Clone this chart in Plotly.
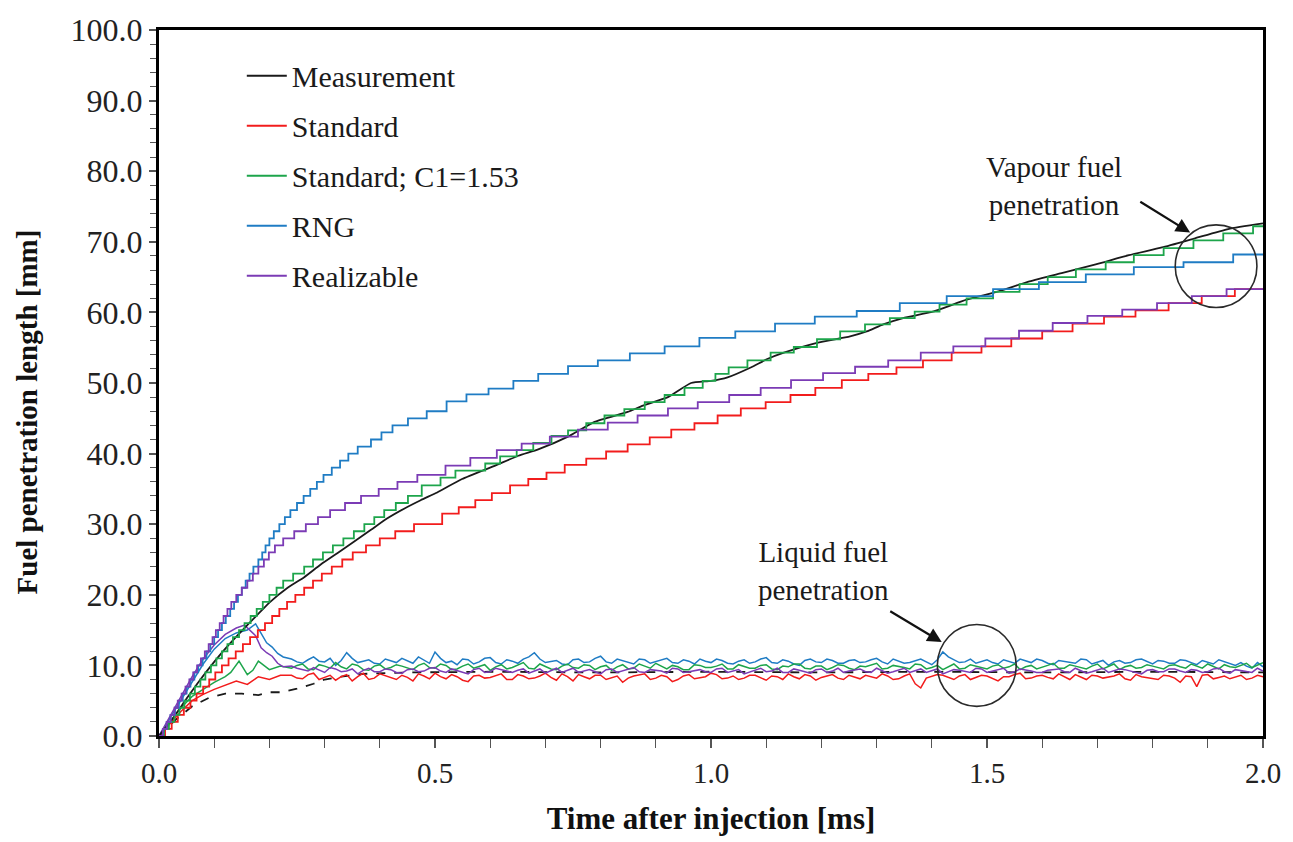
import plotly.graph_objects as go

# ---------------- data ----------------
# Vapour penetration, stepped series: time of each step [ms] and new level [mm]
rng_t = [0, 0.007, 0.014, 0.021, 0.029, 0.036, 0.043, 0.050, 0.057, 0.064, 0.071, 0.079, 0.086, 0.093,
         0.100, 0.107, 0.114, 0.121, 0.129, 0.136, 0.143, 0.150, 0.157, 0.164, 0.171, 0.180, 0.187, 0.193,
         0.200, 0.208, 0.218, 0.228, 0.238, 0.250, 0.262, 0.274, 0.286, 0.298, 0.313, 0.328, 0.343, 0.360,
         0.384, 0.403, 0.423, 0.451, 0.485, 0.521, 0.557, 0.597, 0.642, 0.687, 0.741, 0.795, 0.853, 0.916,
         0.979, 1.044, 1.116, 1.188, 1.264, 1.342, 1.427, 1.511, 1.594, 1.679, 1.766, 1.856, 1.946, 2.0]
rng_y = [0, 1, 2, 3, 4, 5, 6, 7, 8, 9, 10, 11, 12, 13,
         14, 15, 16, 17, 18, 19, 20, 21, 22, 23, 24, 25, 26, 27,
         28, 29, 30, 31, 32, 33, 34, 35, 36, 37, 38, 39, 40, 41,
         42, 43, 44, 45, 46, 47.4, 48.4, 49.2, 50.3, 51.3, 52.4, 53.2, 54.2, 55.2,
         56.4, 57.3, 58.4, 59.4, 60.2, 61.3, 62.3, 63.3, 64.3, 65.4, 66.4, 67.1, 68.2, 68.2]

real_t = [0, 0.007, 0.014, 0.021, 0.028, 0.034, 0.041, 0.048, 0.055, 0.062, 0.069, 0.076, 0.083, 0.090,
          0.097, 0.103, 0.110, 0.117, 0.124, 0.131, 0.140, 0.150, 0.160, 0.170, 0.180, 0.190, 0.199, 0.210,
          0.225, 0.245, 0.266, 0.288, 0.310, 0.337, 0.366, 0.398, 0.432, 0.468, 0.519, 0.564, 0.612, 0.657,
          0.708, 0.759, 0.813, 0.867, 0.922, 0.976, 1.033, 1.090, 1.145, 1.203, 1.261, 1.321, 1.380, 1.439,
          1.497, 1.558, 1.619, 1.682, 1.745, 1.808, 1.871, 1.934, 2.0]
real_y = [0, 1, 2, 3, 4, 5, 6, 7, 8, 9, 10, 11, 12, 13,
          14, 15, 16, 17, 18, 19, 20, 21, 22, 23, 24, 25, 26, 27,
          28, 29, 30, 31, 32, 33, 34, 35, 36, 37, 38.3, 39.4, 40.5, 41.4,
          42.4, 43.4, 44.4, 45.4, 46.4, 47.3, 48.3, 49.3, 50.4, 51.4, 52.3, 53.2, 54.3, 55.2,
          56.3, 57.4, 58.5, 59.5, 60.4, 61.3, 62.3, 63.3, 63.3]

std_t = [0, 0.011, 0.023, 0.034, 0.045, 0.057, 0.068, 0.080, 0.091, 0.102, 0.114, 0.126, 0.139, 0.152,
         0.165, 0.179, 0.192, 0.205, 0.218, 0.232, 0.247, 0.263, 0.279, 0.295, 0.313, 0.332, 0.351, 0.375,
         0.400, 0.428, 0.462, 0.513, 0.543, 0.573, 0.603, 0.636, 0.669, 0.702, 0.735, 0.774, 0.810, 0.849,
         0.889, 0.928, 0.970, 1.012, 1.054, 1.099, 1.144, 1.189, 1.237, 1.285, 1.336, 1.384, 1.436, 1.490,
         1.544, 1.600, 1.655, 1.712, 1.769, 1.829, 1.889, 1.949, 2.0]
std_y = [0, 1, 2, 3, 4, 5, 6, 7, 8, 9, 10, 11, 12, 13,
         14, 15, 16, 17, 18, 19, 20, 21, 22, 23, 24, 25, 26, 27,
         28, 29, 30, 31.5, 32.4, 33.4, 34.4, 35.5, 36.4, 37.3, 38.4, 39.3, 40.3, 41.3,
         42.3, 43.4, 44.3, 45.4, 46.4, 47.3, 48.3, 49.3, 50.4, 51.3, 52.2, 53.2, 54.3, 55.2,
         56.3, 57.3, 58.4, 59.4, 60.3, 61.3, 62.3, 63.3, 63.3]

c153_t = [0, 0.009, 0.018, 0.028, 0.037, 0.046, 0.056, 0.065, 0.075, 0.084, 0.094, 0.104, 0.114, 0.124,
          0.134, 0.145, 0.155, 0.166, 0.177, 0.188, 0.200, 0.213, 0.225, 0.243, 0.263, 0.279, 0.297, 0.315,
          0.334, 0.353, 0.372, 0.390, 0.408, 0.429, 0.451, 0.476, 0.510, 0.537, 0.591, 0.618, 0.648, 0.678,
          0.711, 0.741, 0.774, 0.807, 0.843, 0.880, 0.916, 0.952, 0.985, 1.008, 1.032, 1.066, 1.108, 1.150,
          1.192, 1.234, 1.279, 1.324, 1.369, 1.414, 1.463, 1.511, 1.559, 1.610, 1.661, 1.715, 1.766, 1.820,
          1.874, 1.928, 1.982, 2.0]
c153_y = [0, 1, 2, 3, 4, 5, 6, 7, 8, 9, 10, 11, 12, 13,
          14, 15, 16, 17, 18, 19, 20, 21, 22, 23, 24, 25, 26, 27,
          28, 29, 30, 31, 32, 33, 34, 35.5, 36.6, 37.6, 38.6, 39.6, 40.5, 41.5,
          42.5, 43.3, 44.3, 45.4, 46.3, 47.3, 48.3, 49.3, 50.3, 51.3, 52.2, 53.2, 54.3, 55.1,
          56.2, 57.3, 58.3, 59.2, 60.1, 61.1, 62.0, 62.9, 64.0, 65.0, 66.1, 67.1, 68.1, 69.1,
          70.2, 71.2, 72.2, 72.2]

meas_t = [0, 0.025, 0.05, 0.075, 0.1, 0.125, 0.15, 0.175, 0.2, 0.233, 0.263, 0.293, 0.323, 0.353, 0.384,
          0.413, 0.444, 0.474, 0.504, 0.549, 0.609, 0.651, 0.687, 0.741, 0.789, 0.849, 0.880, 0.922, 0.964,
          1.0, 1.030, 1.072, 1.102, 1.132, 1.192, 1.252, 1.282, 1.312, 1.348, 1.402, 1.463, 1.517, 1.577,
          1.637, 1.697, 1.757, 1.817, 1.877, 1.937, 2.0]
meas_y = [0, 2.5, 5.3, 8.0, 10.5, 12.8, 14.9, 16.9, 18.9, 21.0, 22.5, 24.3, 25.9, 27.5, 29.2,
          30.8, 32.2, 33.4, 34.5, 36.4, 38.3, 39.7, 40.6, 42.4, 44.5, 45.9, 46.9, 48.0, 50.0,
          50.3, 50.8, 52.2, 53.4, 54.3, 55.7, 56.6, 57.3, 58.3, 59.2, 60.1, 61.8, 62.9, 64.4,
          65.6, 66.8, 68.1, 69.2, 70.5, 71.8, 72.6]

# Liquid penetration (measurement, dashed)
meas_liq_t = [0, 0.03, 0.06, 0.09, 0.12, 0.15, 0.18, 0.20, 0.22, 0.25, 0.28, 0.30, 0.33, 0.37, 0.45,
              0.6, 0.8, 1.0, 1.2, 1.4, 1.6, 1.8, 2.0]
meas_liq_y = [0, 2.3, 4.2, 5.4, 6.0, 6.0, 5.8, 6.2, 6.2, 6.7, 7.4, 8.0, 8.4, 8.8, 9.0,
              9.1, 9.0, 9.1, 9.0, 9.1, 9.0, 9.1, 9.0]

# Liquid penetration, simulations: initial rise
std_liq_t0 = [0, 0.02, 0.04, 0.06, 0.08, 0.10, 0.12, 0.14, 0.16, 0.18, 0.20, 0.22]
std_liq_y0 = [0, 1.8, 3.5, 5.0, 5.9, 6.6, 7.2, 7.8, 7.3, 8.4, 8.0, 8.6]
c153_liq_t0 = [0, 0.02, 0.04, 0.06, 0.08, 0.10, 0.12, 0.13, 0.145, 0.16, 0.17, 0.18, 0.20, 0.22]
c153_liq_y0 = [0, 2.0, 4.0, 5.6, 6.6, 7.6, 8.4, 9.0, 10.6, 8.7, 9.3, 10.6, 9.4, 9.9]
rng_liq_t0 = [0, 0.02, 0.04, 0.06, 0.08, 0.10, 0.12, 0.14, 0.16, 0.175, 0.185, 0.195, 0.205, 0.215, 0.225]
rng_liq_y0 = [0, 2.6, 5.2, 7.8, 10.2, 12.3, 13.8, 14.6, 15.0, 15.9, 14.6, 13.2, 12.6, 11.7, 11.2]
real_liq_t0 = [0, 0.02, 0.04, 0.06, 0.08, 0.10, 0.12, 0.14, 0.155, 0.165, 0.175, 0.185, 0.195, 0.205, 0.215, 0.225]
real_liq_y0 = [0, 2.8, 5.6, 8.4, 10.9, 12.9, 14.4, 15.3, 15.7, 15.0, 14.2, 12.5, 11.8, 11.3, 10.3, 9.8]

# Fluctuating part, sampled at even (liq_t) and odd (liq_t_mid) hundredths of a ms
liq_t = [0.24, 0.26, 0.28, 0.30, 0.32, 0.34, 0.36, 0.38, 0.40, 0.42,
         0.44, 0.46, 0.48, 0.50, 0.52, 0.54, 0.56, 0.58, 0.60, 0.62,
         0.64, 0.66, 0.68, 0.70, 0.72, 0.74, 0.76, 0.78, 0.80, 0.82,
         0.84, 0.86, 0.88, 0.90, 0.92, 0.94, 0.96, 0.98, 1.00, 1.02,
         1.04, 1.06, 1.08, 1.10, 1.12, 1.14, 1.16, 1.18, 1.20, 1.22,
         1.24, 1.26, 1.28, 1.30, 1.32, 1.34, 1.36, 1.38, 1.40, 1.42,
         1.44, 1.46, 1.48, 1.50, 1.52, 1.54, 1.56, 1.58, 1.60, 1.62,
         1.64, 1.66, 1.68, 1.70, 1.72, 1.74, 1.76, 1.78, 1.80, 1.82,
         1.84, 1.86, 1.88, 1.90, 1.92, 1.94, 1.96, 1.98, 2.00]
liq_t_mid = [0.25, 0.27, 0.29, 0.31, 0.33, 0.35, 0.37, 0.39, 0.41, 0.43,
             0.45, 0.47, 0.49, 0.51, 0.53, 0.55, 0.57, 0.59, 0.61, 0.63,
             0.65, 0.67, 0.69, 0.71, 0.73, 0.75, 0.77, 0.79, 0.81, 0.83,
             0.85, 0.87, 0.89, 0.91, 0.93, 0.95, 0.97, 0.99, 1.01, 1.03,
             1.05, 1.07, 1.09, 1.11, 1.13, 1.15, 1.17, 1.19, 1.21, 1.23,
             1.25, 1.27, 1.29, 1.31, 1.33, 1.35, 1.37, 1.39, 1.41, 1.43,
             1.45, 1.47, 1.49, 1.51, 1.53, 1.55, 1.57, 1.59, 1.61, 1.63,
             1.65, 1.67, 1.69, 1.71, 1.73, 1.75, 1.77, 1.79, 1.81, 1.83,
             1.85, 1.87, 1.89, 1.91, 1.93, 1.95, 1.97, 1.99]

std_liq_y = [8.6, 8.1, 8.9, 8.3, 7.9, 8.7, 8.4, 8.0, 8.8, 8.2,
             8.6, 7.8, 8.5, 8.9, 8.1, 8.4, 7.7, 8.6, 8.3, 8.8,
             8.0, 8.5, 8.2, 8.9, 7.9, 8.4, 8.7, 8.1, 8.6, 8.3,
             7.6, 8.5, 8.8, 8.2, 8.4, 8.0, 8.7, 8.3, 8.9, 8.1,
             8.5, 8.2, 8.6, 7.9, 8.4, 8.8, 8.1, 8.5, 8.3, 8.7,
             8.0, 8.4, 8.6, 8.2, 8.5, 8.1, 8.8, 6.8, 8.4, 8.6,
             8.0, 8.7, 8.3, 8.5, 7.8, 8.4, 8.9, 8.2, 8.6, 8.1,
             8.4, 8.7, 8.0, 8.5, 8.3, 8.8, 7.9, 8.4, 8.2, 8.6,
             8.2, 8.5, 7.0, 8.7, 8.3, 8.1, 8.6, 8.2, 8.4]
std_liq_y_mid = [8.2, 8.7, 8.0, 8.6, 8.4, 7.8, 8.9, 8.2, 8.5, 8.0,
                 8.3, 8.8, 8.1, 8.4, 8.7, 7.9, 8.5, 8.2, 8.6, 8.0,
                 8.7, 8.1, 8.5, 8.3, 8.8, 7.8, 8.4, 8.6, 8.0, 8.5,
                 8.2, 8.7, 8.0, 8.6, 7.7, 8.5, 8.1, 8.4, 8.7, 8.2,
                 8.0, 8.6, 8.3, 8.5, 8.0, 8.4, 8.7, 7.9, 8.5, 8.2,
                 8.6, 8.1, 8.4, 8.8, 8.0, 8.5, 7.4, 8.2, 8.7, 8.3,
                 8.5, 8.0, 8.6, 8.2, 8.4, 8.7, 8.1, 8.5, 8.3, 8.8,
                 8.0, 8.4, 8.6, 8.2, 8.5, 8.1, 8.7, 8.3, 8.0, 8.5,
                 7.6, 8.4, 8.6, 8.1, 8.5, 8.3, 8.0, 8.6]
c153_liq_y = [9.6, 10.2, 9.4, 9.9, 10.4, 9.5, 10.0, 9.3, 10.1, 9.7,
              9.9, 9.4, 10.3, 9.6, 10.0, 9.5, 10.2, 9.8, 9.3, 10.1,
              9.7, 10.4, 9.5, 9.9, 9.4, 10.2, 9.6, 10.0, 9.8, 9.3,
              10.1, 9.6, 9.9, 10.3, 9.5, 9.8, 9.4, 10.0, 9.7, 10.2,
              9.5, 9.9, 9.6, 10.1, 9.4, 9.8, 10.2, 9.5, 9.9, 9.7,
              10.0, 9.4, 9.8, 10.3, 9.6, 9.9, 9.5, 10.1, 9.7, 9.4,
              10.2, 9.6, 9.9, 9.5, 10.1, 9.8, 9.4, 10.0, 9.7, 10.3,
              9.6, 9.9, 9.5, 10.2, 9.8, 9.4, 10.0, 9.7, 9.9, 9.5,
              10.1, 9.6, 9.9, 10.2, 9.5, 9.8, 10.0, 9.7, 10.4]
c153_liq_y_mid = [10.0, 9.5, 10.1, 9.6, 9.8, 10.2, 9.4, 9.9, 9.5, 10.1,
                  9.6, 10.0, 9.7, 10.2, 9.4, 9.9, 9.6, 10.1, 9.8, 9.5,
                  10.0, 9.6, 10.2, 9.5, 9.9, 9.7, 10.1, 9.4, 10.0, 9.8,
                  9.5, 10.2, 9.6, 9.9, 10.0, 9.4, 10.1, 9.7, 9.9, 9.5,
                  10.1, 9.6, 10.0, 9.5, 9.9, 10.2, 9.6, 9.9, 9.4, 10.1,
                  9.6, 9.9, 10.1, 9.5, 10.0, 9.7, 10.2, 9.5, 10.0, 9.8,
                  9.5, 10.1, 9.7, 9.9, 9.6, 10.2, 9.8, 9.5, 10.0, 9.6,
                  10.1, 9.7, 9.9, 9.5, 10.2, 9.8, 9.6, 10.1, 9.7, 10.0,
                  9.8, 10.2, 9.6, 9.9, 10.1, 9.7, 10.3, 10.0]
rng_liq_y = [10.9, 10.3, 11.2, 10.5, 10.0, 11.8, 10.4, 10.8, 10.2, 10.6,
             11.0, 10.3, 10.7, 11.9, 10.4, 10.1, 10.8, 10.5, 11.1, 10.2,
             10.6, 10.9, 11.8, 10.4, 10.7, 10.1, 10.9, 10.5, 11.3, 10.3,
             10.7, 10.2, 10.8, 10.5, 11.0, 10.3, 10.6, 10.9, 10.4, 10.7,
             10.2, 10.8, 10.5, 11.1, 10.3, 10.6, 10.0, 10.9, 10.4, 10.7,
             10.3, 10.8, 10.5, 11.0, 10.2, 10.6, 10.4, 10.9, 10.1, 11.9,
             10.8, 10.5, 10.3, 10.8, 10.2, 10.6, 10.9, 10.4, 10.7, 10.1,
             10.6, 10.3, 10.8, 10.5, 10.0, 10.7, 10.4, 10.9, 10.2, 10.6,
             10.3, 10.7, 10.1, 10.5, 10.8, 10.2, 10.4, 9.6, 9.8]
rng_liq_y_mid = [10.5, 10.8, 10.6, 11.0, 10.7, 11.0, 10.6, 10.3, 10.9, 10.4,
                 10.6, 11.2, 10.3, 11.0, 10.6, 10.9, 10.2, 11.0, 10.4, 10.8,
                 10.3, 11.2, 10.9, 10.6, 10.2, 10.8, 10.4, 11.0, 10.5, 10.9,
                 10.4, 10.9, 10.3, 10.7, 10.4, 10.8, 10.2, 10.6, 10.9, 10.3,
                 10.6, 10.3, 10.9, 10.4, 10.8, 10.2, 10.7, 10.5, 10.9, 10.3,
                 10.7, 10.4, 10.8, 10.5, 10.9, 10.3, 10.7, 10.5, 10.8, 11.2,
                 10.4, 10.9, 10.6, 10.4, 10.8, 10.3, 10.6, 10.9, 10.3, 10.7,
                 10.4, 10.9, 10.2, 10.7, 10.5, 10.3, 10.8, 10.5, 10.7, 10.3,
                 10.8, 10.4, 10.7, 10.2, 10.5, 10.0, 9.9, 10.4]
real_liq_y = [9.9, 9.4, 9.7, 9.0, 9.5, 9.2, 8.8, 9.6, 9.1, 9.4,
              8.9, 9.5, 9.2, 9.7, 9.0, 9.3, 8.8, 9.6, 9.1, 9.4,
              9.0, 9.5, 9.2, 8.9, 9.6, 9.3, 9.0, 9.4, 8.8, 9.5,
              9.2, 9.7, 9.0, 9.3, 8.9, 9.5, 9.1, 9.4, 9.0, 9.6,
              9.2, 8.8, 9.4, 9.1, 9.6, 9.0, 9.3, 8.9, 9.5, 9.2,
              9.0, 9.4, 9.1, 9.6, 8.9, 9.3, 9.0, 9.5, 9.2, 8.8,
              9.4, 9.1, 9.6, 9.0, 9.3, 8.9, 9.5, 9.2, 9.0, 9.4,
              9.1, 9.6, 8.9, 9.3, 9.0, 9.5, 9.2, 8.8, 9.4, 9.1,
              9.5, 9.0, 9.3, 9.1, 9.6, 8.9, 9.3, 9.0, 9.2]
real_liq_y_mid = [9.6, 9.2, 9.4, 9.7, 9.1, 9.5, 9.3, 9.1, 9.5, 9.0,
                  9.4, 9.1, 9.6, 9.2, 9.5, 9.1, 9.4, 9.0, 9.6, 9.2,
                  9.3, 8.9, 9.5, 9.2, 9.0, 9.6, 9.2, 9.1, 9.4, 9.0,
                  9.5, 9.1, 9.4, 9.2, 9.6, 9.0, 9.3, 9.1, 9.5, 9.0,
                  9.4, 9.1, 9.6, 9.2, 9.0, 9.5, 9.1, 9.4, 9.0, 9.6,
                  9.2, 9.5, 9.0, 9.3, 9.1, 9.6, 9.2, 9.0, 9.5, 9.1,
                  9.3, 9.0, 9.5, 9.2, 9.6, 9.1, 9.4, 9.0, 9.3, 9.5,
                  9.0, 9.3, 9.1, 9.6, 9.2, 9.4, 9.0, 9.3, 9.1, 9.5,
                  9.2, 9.4, 9.0, 9.5, 9.1, 9.4, 9.2, 9.6]

names = ["Measurement", "Standard", "Standard; C1=1.53", "RNG", "Realizable"]
colors = {"Measurement": "#1a1a1a", "Standard": "#f21c1c", "Standard; C1=1.53": "#1da54b",
          "RNG": "#1f7cc4", "Realizable": "#7b3bb5"}

# annotation positions (data units)
vap_circle = dict(x0=1.841, x1=1.989, y0=60.7, y1=72.4)
liq_circle = dict(x0=1.410, x1=1.553, y0=4.2, y1=15.8)
vap_arrow = dict(tail=(1.775, 75.8), head=(1.868, 71.3))
liq_arrow = dict(tail=(1.322, 17.8), head=(1.418, 13.3))
vap_text = dict(x=1.621, y=77.9, text="Vapour fuel<br>penetration")
liq_text = dict(x=1.203, y=23.4, text="Liquid fuel<br>penetration")

FONT = "Liberation Serif, Times New Roman, serif"
LW = 1.8


def merged(t0, y0, ta, ya, tb, yb):
    pts = sorted(zip(ta + tb, ya + yb))
    return t0 + [p[0] for p in pts], y0 + [p[1] for p in pts]


fig = go.Figure()

# liquid traces first (underneath)
fig.add_trace(go.Scatter(x=meas_liq_t, y=meas_liq_y, mode="lines", showlegend=False,
                         line=dict(color=colors["Measurement"], width=LW, dash="dash"), legendgroup="g0"))
liq_series = [
    ("Standard", std_liq_t0, std_liq_y0, std_liq_y, std_liq_y_mid, "g1"),
    ("RNG", rng_liq_t0, rng_liq_y0, rng_liq_y, rng_liq_y_mid, "g3"),
    ("Standard; C1=1.53", c153_liq_t0, c153_liq_y0, c153_liq_y, c153_liq_y_mid, "g2"),
    ("Realizable", real_liq_t0, real_liq_y0, real_liq_y, real_liq_y_mid, "g4"),
]
for nm, t0, y0, ya, yb, g in liq_series:
    xs, ys = merged(t0, y0, liq_t, ya, liq_t_mid, yb)
    fig.add_trace(go.Scatter(x=xs, y=ys, mode="lines", showlegend=False, legendgroup=g,
                             line=dict(color=colors[nm], width=1.5)))

# vapour traces
vap_series = [
    ("Standard", std_t, std_y, "g1"),
    ("Standard; C1=1.53", c153_t, c153_y, "g2"),
    ("RNG", rng_t, rng_y, "g3"),
    ("Realizable", real_t, real_y, "g4"),
]
fig.add_trace(go.Scatter(x=meas_t, y=meas_y, mode="lines", name="Measurement", legendgroup="g0",
                         legendrank=1, line=dict(color=colors["Measurement"], width=LW, shape="spline",
                                                 smoothing=0.5)))
for i, (nm, t, y, g) in enumerate(vap_series):
    fig.add_trace(go.Scatter(x=t, y=y, mode="lines", name=nm, legendgroup=g, legendrank=i + 2,
                             line=dict(color=colors[nm], width=LW, shape="hv")))

# circles
for c in (vap_circle, liq_circle):
    fig.add_shape(type="circle", xref="x", yref="y", line=dict(color="#2a2a2a", width=1.6), **c)

# arrows
for a in (vap_arrow, liq_arrow):
    fig.add_annotation(x=a["head"][0], y=a["head"][1], ax=a["tail"][0], ay=a["tail"][1],
                       xref="x", yref="y", axref="x", ayref="y", text="", showarrow=True,
                       arrowhead=2, arrowsize=1.3, arrowwidth=2.2, arrowcolor="#111")
# texts
for tx in (vap_text, liq_text):
    fig.add_annotation(x=tx["x"], y=tx["y"], xref="x", yref="y", text=tx["text"], showarrow=False,
                       align="center", font=dict(family=FONT, size=29, color="#1a1a1a"))

# y-axis title (placed as in the reference, slightly below plot centre)
fig.add_annotation(x=-0.12, y=0.459, xref="paper", yref="paper", text="Fuel penetration length [mm]",
                   textangle=-90, showarrow=False, xanchor="center", yanchor="middle",
                   font=dict(family=FONT, size=29, weight="bold", color="#111"))

fig.update_layout(
    width=1293, height=842,
    margin=dict(l=159, r=25, t=22, b=105),
    paper_bgcolor="white", plot_bgcolor="white",
    font=dict(family=FONT, color="#1a1a1a"),
    legend=dict(x=0.075, y=0.972, xanchor="left", yanchor="top", bgcolor="rgba(0,0,0,0)",
                font=dict(family=FONT, size=30, color="#1a1a1a"), tracegroupgap=8,
                traceorder="grouped", itemwidth=40),
    xaxis=dict(range=[0, 2], dtick=0.5, tick0=0, tickformat=".1f", ticks="outside", ticklen=9,
               tickwidth=1.5, tickcolor="#555", showline=True, linewidth=3, linecolor="black",
               mirror=True, showgrid=False, zeroline=False,
               minor=dict(dtick=0.1, ticks="outside", ticklen=9, tickwidth=1.2, tickcolor="#555"),
               tickfont=dict(family=FONT, size=29, color="#222"),
               title=dict(text="Time after injection [ms]", standoff=20,
                          font=dict(family=FONT, size=31, weight="bold", color="#111"))),
    yaxis=dict(range=[0, 100], dtick=10, tick0=0, tickformat=".1f", ticks="outside", ticklen=7,
               tickwidth=1.5, tickcolor="#555", showline=True, linewidth=3, linecolor="black",
               mirror=True, showgrid=False, zeroline=False,
               minor=dict(dtick=2, ticks="outside", ticklen=6, tickwidth=1.2, tickcolor="#555"),
               tickfont=dict(family=FONT, size=32, color="#222")),
)

fig.write_html("out.html")
